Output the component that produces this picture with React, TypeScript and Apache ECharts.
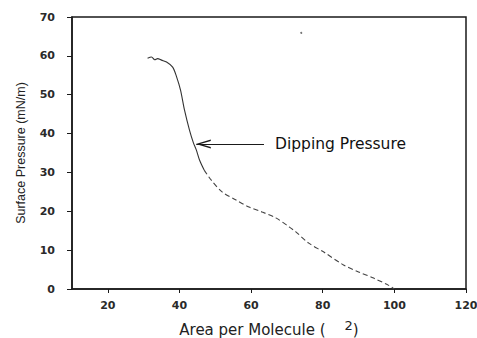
import React, { useEffect, useRef } from "react";
import * as echarts from "echarts";

// Area per molecule (Å²) and surface pressure (mN/m) read from the isotherm
const areaSteep = [31.1, 32.2, 33.1, 33.9, 35.0, 36.4, 38.1, 39.2, 40.3, 41.4, 42.8, 43.9, 44.7, 45.6, 46.9];
const pressureSteep = [59.4, 59.7, 59.0, 59.3, 58.9, 58.4, 57.1, 54.6, 51.2, 46.1, 40.9, 37.6, 35.8, 33.2, 30.6];

const areaTail = [46.9, 48.9, 51.9, 55.8, 59.4, 63.1, 66.9, 70.6, 72.5, 76.1, 80.3, 85.8, 90.0, 94.2, 98.3, 100.0];
const pressureTail = [30.6, 28.0, 25.0, 22.9, 21.1, 19.8, 18.3, 16.0, 14.7, 11.8, 9.5, 6.2, 4.4, 2.8, 1.0, 0.0];

const strayArea = [74.0];
const strayPressure = [65.9];

const xTicks = [20, 40, 60, 80, 100, 120];
const yTicks = [0, 10, 20, 30, 40, 50, 60, 70];

const annotationText = "Dipping Pressure";
const annotationTip = [44.7, 37.3];
const annotationEnd = [63.6, 37.3];

const zip = (xs: number[], ys: number[]) => xs.map((x, i) => [x, ys[i]]);

export default function App() {
  const ref = useRef<HTMLDivElement>(null);
  useEffect(() => {
    if (!ref.current) return;
    document.body.style.margin = "0";
    const chart = echarts.init(ref.current, undefined, { renderer: "svg" });
    const ink = "#1a1a1a";
    const tickFont = { color: "#2a2a2a", fontSize: 11, fontFamily: "DejaVu Sans", fontWeight: "bold" as const };
    chart.setOption({
      animation: false,
      backgroundColor: "#ffffff",
      grid: {
        left: 72,
        top: 17,
        right: 11,
        bottom: 49,
        show: true,
        borderColor: ink,
        borderWidth: 1.5,
        containLabel: false,
        outerBoundsMode: "none",
      },
      xAxis: {
        type: "value",
        min: 10,
        max: 120,
        name: "Area per Molecule (    {sup|2})",
        nameLocation: "middle",
        nameGap: 30,
        nameTextStyle: {
          color: "#222",
          fontSize: 15,
          fontFamily: "DejaVu Sans",
          rich: {
            sup: { color: "#222", fontSize: 13, fontFamily: "DejaVu Sans", padding: [0, 0, 9, 0] },
          },
        },
        axisLine: { show: true, lineStyle: { color: ink, width: 1.5 } },
        axisTick: { show: true, length: 4, customValues: xTicks, lineStyle: { color: ink } },
        axisLabel: { customValues: xTicks, margin: 11, ...tickFont },
        splitLine: { show: false },
      },
      yAxis: {
        type: "value",
        min: yTicks[0],
        max: yTicks[yTicks.length - 1],
        interval: 10,
        name: "Surface Pressure (mN/m)",
        nameLocation: "middle",
        nameGap: 45,
        nameTextStyle: { color: "#222", fontSize: 12.5, fontFamily: "Liberation Sans" },
        axisLine: { show: true, lineStyle: { color: ink, width: 1.5 } },
        axisTick: { show: true, length: 5, lineStyle: { color: ink } },
        axisLabel: { margin: 17, ...tickFont },
        splitLine: { show: false },
      },
      series: [
        {
          type: "line",
          data: zip(areaSteep, pressureSteep),
          smooth: 0.3,
          showSymbol: false,
          lineStyle: { color: "#333", width: 1.1 },
          markLine: {
            silent: true,
            symbol: ["path://M5,0 L10,13 L8.4,13 L5,4 L1.6,13 L0,13 Z", "none"],
            symbolSize: [9, 15],
            symbolOffset: [[0, 7], 0],
            lineStyle: { color: ink, width: 1.2, type: "solid" },
            label: {
              show: true,
              position: "end",
              distance: 11,
              formatter: annotationText,
              color: "#111",
              fontSize: 15.5,
              fontFamily: "DejaVu Sans",
            },
            data: [[{ coord: annotationTip }, { coord: annotationEnd }]],
          },
        },
        {
          type: "line",
          data: zip(areaTail, pressureTail),
          smooth: 0.3,
          showSymbol: false,
          lineStyle: { color: "#444", width: 1.1, type: [5, 3] },
        },
        {
          type: "scatter",
          data: zip(strayArea, strayPressure),
          symbolSize: 2,
          itemStyle: { color: "#555" },
        },
      ],
    });
    return () => chart.dispose();
  }, []);
  return <div ref={ref} style={{ width: 477, height: 338 }} />;
}
